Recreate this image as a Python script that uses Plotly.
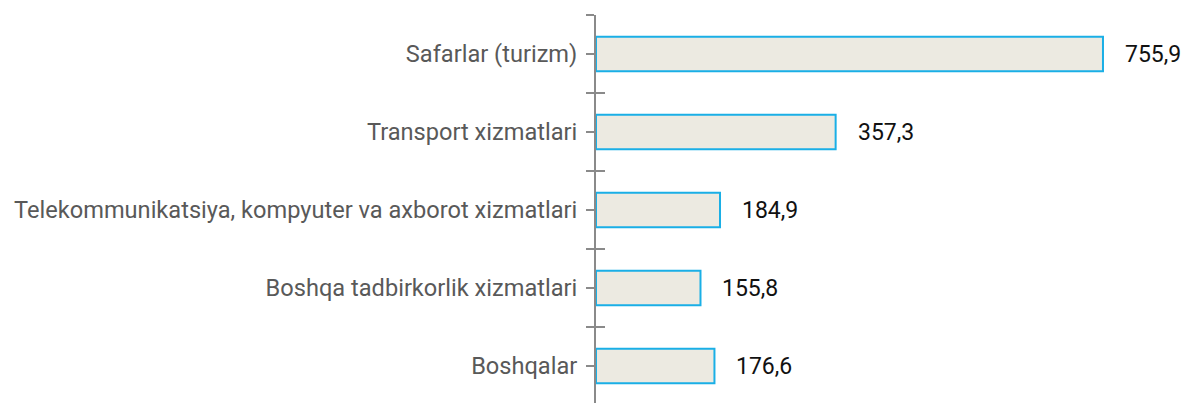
import plotly.graph_objects as go

categories = ["Safarlar (turizm)", "Transport xizmatlari",
              "Telekommunikatsiya, kompyuter va axborot xizmatlari",
              "Boshqa tadbirkorlik xizmatlari", "Boshqalar"]
values = [755.9, 357.3, 184.9, 155.8, 176.6]
value_labels = ["755,9", "357,3", "184,9", "155,8", "176,6"]

pos = list(range(len(categories)))
bounds = [i - 0.5 for i in range(len(categories) + 1)]

fig = go.Figure()
fig.add_trace(go.Bar(
    y=pos, x=values, orientation="h", width=0.44,
    marker=dict(color="#ECEAE1", line=dict(color="#1AAFE6", width=2)),
    hoverinfo="skip"))

for p, v, t in zip(pos, values, value_labels):
    fig.add_annotation(x=v, y=p, text=t, showarrow=False, xanchor="left",
                       xshift=20, font=dict(family="Roboto", size=23, color="#111111"))

# invisible trace on y2 to activate the overlaying axis
fig.add_trace(go.Scatter(x=[0], y=[0], yaxis="y2", mode="markers",
                         marker=dict(opacity=0), hoverinfo="skip", showlegend=False))

yr = [4.474, -0.5]
fig.update_layout(
    width=1184, height=403,
    margin=dict(l=596, r=0, t=15, b=0),
    plot_bgcolor="white", paper_bgcolor="white",
    showlegend=False,
    xaxis=dict(range=[0, 876.7], visible=False),
    yaxis=dict(range=yr, tickvals=pos, ticktext=categories,
               ticks="outside", ticklen=8, tickwidth=2, tickcolor="#8a8a8a",
               showline=True, linecolor="#8a8a8a", linewidth=2,
               showgrid=False, zeroline=False, ticklabelstandoff=4,
               tickfont=dict(family="Roboto", size=23.6, color="#595959"),
               minor=dict(tickvals=bounds, ticks="outside", ticklen=8,
                          tickwidth=2, tickcolor="#8a8a8a", showgrid=False)),
    yaxis2=dict(range=yr, overlaying="y", side="left", anchor="x",
                tickvals=bounds, ticks="inside", ticklen=9, tickwidth=2,
                tickcolor="#8a8a8a", showticklabels=False, showgrid=False,
                zeroline=False, showline=False),
)
fig.write_html("out.html", config={"displayModeBar": False},
               post_script="document.body.style.margin='0';")
